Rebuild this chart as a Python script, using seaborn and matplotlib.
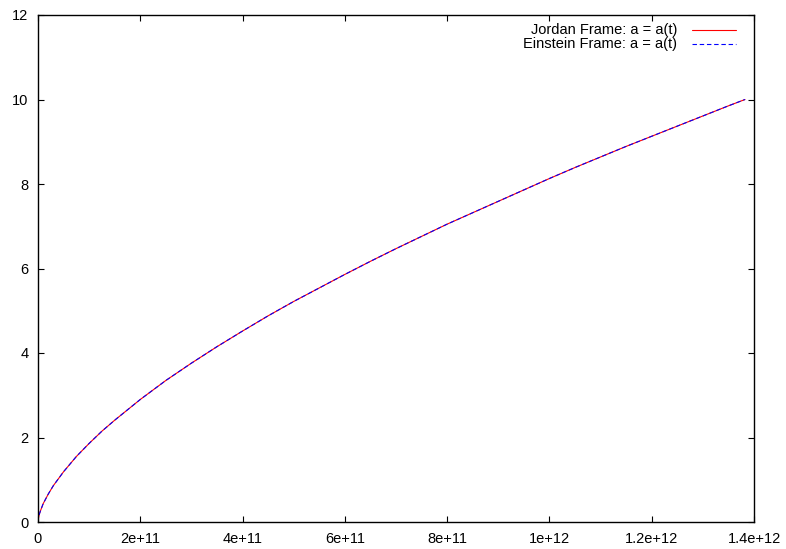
import matplotlib
matplotlib.use("Agg")
import matplotlib.pyplot as plt
from matplotlib.lines import Line2D
import seaborn as sns
import pandas as pd

# Scale factor a(t) in both frames
t_values = [0.0, 1e9, 3e9, 5e9, 1e10, 2e10, 3e10, 5e10, 7.5e10, 1e11, 1.25e11,
            1.5e11, 2e11, 2.5e11, 3e11, 3.5e11, 4e11, 4.5e11, 5e11, 5.5e11,
            6e11, 6.5e11, 7e11, 7.5e11, 8e11, 8.5e11, 9e11, 9.5e11, 1e12,
            1.05e12, 1.1e12, 1.15e12, 1.2e12, 1.25e12, 1.3e12, 1.35e12, 1.3824e12]
a_jordan = [0.0, 0.10, 0.20, 0.27, 0.43, 0.66, 0.86, 1.19, 1.55, 1.86, 2.15,
            2.41, 2.90, 3.35, 3.76, 4.15, 4.52, 4.88, 5.22, 5.54,
            5.86, 6.17, 6.47, 6.76, 7.05, 7.32, 7.59, 7.86, 8.13,
            8.39, 8.64, 8.89, 9.13, 9.37, 9.61, 9.85, 10.0]
a_einstein = [0.0, 0.10, 0.20, 0.27, 0.43, 0.66, 0.86, 1.19, 1.55, 1.86, 2.15,
              2.41, 2.90, 3.35, 3.76, 4.15, 4.52, 4.88, 5.22, 5.54,
              5.86, 6.17, 6.47, 6.76, 7.05, 7.32, 7.59, 7.86, 8.13,
              8.39, 8.64, 8.89, 9.13, 9.37, 9.61, 9.85, 10.0]

x_ticks = [0, 2e11, 4e11, 6e11, 8e11, 1e12, 1.2e12, 1.4e12]
x_tick_labels = ["0", "2e+11", "4e+11", "6e+11", "8e+11", "1e+12", "1.2e+12", "1.4e+12"]
y_ticks = [0, 2, 4, 6, 8, 10, 12]
y_tick_labels = ["0", "2", "4", "6", "8", "10", "12"]

label_jordan = "Jordan Frame: a = a(t)"
label_einstein = "Einstein Frame: a = a(t)"

RED = "#ff0000"
BLUE = "#0000ff"
DASH = (0, (4, 2.5))
FS = 10.5

sns.set_style("white")
plt.rcParams["font.family"] = ["Liberation Sans", "DejaVu Sans"]
plt.rcParams["font.size"] = FS

fig = plt.figure(figsize=(7.86, 5.49), dpi=100)
ax = fig.add_axes([38 / 786, 27 / 549, 716 / 786, 507 / 549])

df_j = pd.DataFrame({"t": t_values, "a": a_jordan})
df_e = pd.DataFrame({"t": t_values, "a": a_einstein})

sns.lineplot(data=df_j, x="t", y="a", ax=ax, color=RED, linewidth=0.8,
             sort=False, estimator=None, legend=False)
sns.lineplot(data=df_e, x="t", y="a", ax=ax, color=BLUE, linewidth=0.8,
             linestyle=DASH, sort=False, estimator=None, legend=False)

ax.set_xlim(0, 1.4e12)
ax.set_ylim(0, 12)
ax.set_xticks(x_ticks)
ax.set_xticklabels(x_tick_labels)
ax.set_yticks(y_ticks)
ax.set_yticklabels(y_tick_labels)
ax.set_xlabel("")
ax.set_ylabel("")

for side in ax.spines.values():
    side.set_visible(True)
    side.set_color("black")
    side.set_linewidth(1.0)

ax.tick_params(axis="both", which="both", direction="in", length=4.5, width=0.8,
               top=True, right=True, bottom=True, left=True, colors="black",
               labelsize=FS, pad=7)
ax.tick_params(labeltop=False, labelright=False)

# key in the upper right: right-aligned labels, line samples after them
key_rows = [(label_jordan, RED, "-", 0.9704), (label_einstein, BLUE, DASH, 0.9428)]
for text, color, ls, yrow in key_rows:
    ax.text(0.8925, yrow, text, transform=ax.transAxes, ha="right", va="center",
            fontsize=FS, color="black")
    ax.add_line(Line2D([0.9134, 0.9749], [yrow, yrow], transform=ax.transAxes,
                       color=color, linestyle=ls, linewidth=0.8))

fig.savefig("out.png", dpi=100)
